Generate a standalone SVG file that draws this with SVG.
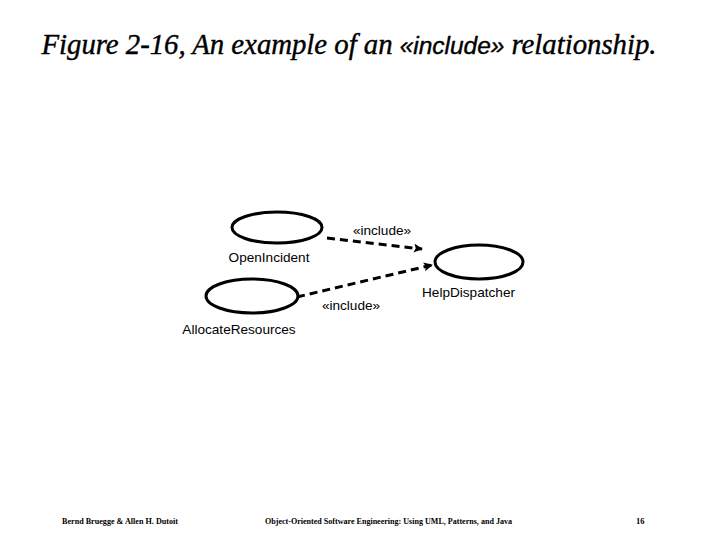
<svg xmlns="http://www.w3.org/2000/svg" width="720" height="540" viewBox="0 0 720 540">
<style>
.uc{fill:none;stroke:#000;stroke-width:3}
.lbl{font-family:"Liberation Sans",Arial,sans-serif;font-size:13.6px;fill:#000}
.dep{fill:none;stroke:#000;stroke-width:3;stroke-dasharray:8 5}
.foot{font-family:"Liberation Serif","Times New Roman",serif;font-size:8.5px;font-weight:bold;fill:#000}
.ttl{font-family:"Liberation Serif","Times New Roman",serif;font-style:italic;font-size:28.8px;fill:#000;stroke:#000;stroke-width:0.4}
.ttls{font-family:"Liberation Sans",Arial,sans-serif;font-size:24.5px}
</style>
<defs>
<marker id="ah" viewBox="0 0 10 10" refX="9" refY="5" markerWidth="3.2" markerHeight="3" orient="auto" markerUnits="strokeWidth">
<path d="M0,0 L10,5 L0,10 L2,5 Z" fill="#000"/>
</marker>
</defs>
<rect width="720" height="540" fill="#fff"/>
<text id="title" class="ttl" x="41.5" y="54" textLength="615" lengthAdjust="spacing">Figure 2-16, An example of an <tspan class="ttls">«include»</tspan> relationship.</text>
<g id="OpenIncident">
<ellipse class="uc" cx="277" cy="227.5" rx="45" ry="15.5"/>
<text class="lbl" x="269" y="262" text-anchor="middle">OpenIncident</text>
</g>
<g id="HelpDispatcher">
<ellipse class="uc" cx="479" cy="262" rx="44" ry="17"/>
<text class="lbl" x="468.5" y="297" text-anchor="middle">HelpDispatcher</text>
</g>
<g id="AllocateResources">
<ellipse class="uc" cx="252" cy="296" rx="46" ry="17"/>
<text class="lbl" x="239" y="334" text-anchor="middle">AllocateResources</text>
</g>
<g id="connectors">
<line class="dep" x1="327" y1="238" x2="422" y2="249" marker-end="url(#ah)"/>
<text class="lbl" x="382" y="235" text-anchor="middle">«include»</text>
<line class="dep" x1="297" y1="297" x2="432" y2="265" marker-end="url(#ah)"/>
<text class="lbl" x="351" y="310" text-anchor="middle">«include»</text>
</g>
<g id="footer">
<text class="foot" x="62" y="524" textLength="116" lengthAdjust="spacingAndGlyphs">Bernd Bruegge &amp; Allen H. Dutoit</text>
<text class="foot" x="265" y="524" textLength="247" lengthAdjust="spacingAndGlyphs">Object-Oriented Software Engineering: Using UML, Patterns, and Java</text>
<text class="foot" x="636" y="524">16</text>
</g>
</svg>
